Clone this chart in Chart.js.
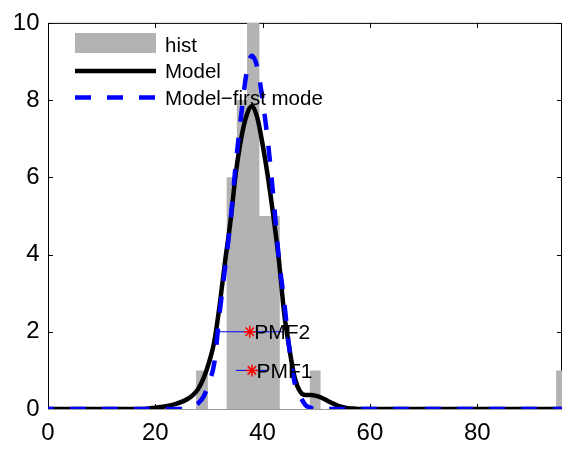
<!DOCTYPE html>
<html>
<head>
<meta charset="utf-8">
<script src="https://cdn.jsdelivr.net/npm/chart.js@4"></script>
<style>
  html, body { margin: 0; padding: 0; background: #fff; }
  #wrap { width: 571px; height: 458px; }
</style>
</head>
<body>
<div id="wrap"><canvas id="c" width="571" height="458"></canvas></div>
<script>
// Axis ticks
const xTicks = [0, 20, 40, 60, 80];
const yTicks = [0, 2, 4, 6, 8, 10];

// Histogram bins: left edge, right edge, count
const histLeft  = [27.6, 33.3, 35.2, 37.1, 39.4, 41.3, 48.8, 94.7];
const histRight = [29.8, 35.2, 37.1, 39.4, 41.3, 43.2, 50.8, 96.8];
const histCount = [1, 6, 8, 10, 5, 5, 1, 1];

// Full model density
const modelX = [0, 18, 19, 20, 21, 22, 23, 24, 25, 26, 27, 28, 29, 30, 31, 32, 33, 34, 35, 36, 37, 38,
                39, 40, 41, 42, 43, 44, 45, 46, 47, 48, 49, 50, 51, 52, 53, 54, 55, 56, 57, 58, 95.8];
const modelY = [0, 0, 0.02, 0.03, 0.05, 0.07, 0.10, 0.14, 0.19, 0.26, 0.36, 0.52, 0.80, 1.20, 1.75, 2.70, 3.82, 4.85, 6.10, 7.00, 7.60, 7.85,
                7.55, 6.85, 6.00, 5.00, 3.90, 2.50, 1.55, 0.80, 0.45, 0.36, 0.36, 0.34, 0.29, 0.22, 0.15, 0.09, 0.05, 0.02, 0.01, 0, 0];

// First mode of the model
const modeX = [0, 25, 26, 27, 28, 29, 30, 31, 32, 33, 34, 35, 36, 37, 38, 39, 40, 41, 42, 43, 44, 45, 46, 47, 48, 49, 50, 95.8];
const modeY = [0, 0, 0.03, 0.07, 0.15, 0.32, 0.68, 1.20, 2.50, 3.65, 4.85, 6.35, 7.60, 8.70, 9.15, 8.85, 8.00, 6.90, 5.50, 3.95, 2.80, 1.55, 0.66, 0.33, 0.10, 0.03, 0, 0];

// PMF estimates with their ranges
const pmfLabels = ['PMF1', 'PMF2'];
const pmfX = [38.0, 37.6];
const pmfY = [1, 2];
const pmfLow = [35.0, 31.7];
const pmfHigh = [41.0, 43.9];

const legendLabels = ['hist', 'Model', 'Model\u2212first mode'];

const FONT = "'Liberation Sans', Arial, Helvetica, sans-serif";
const GRAY = '#b3b3b3';

const histPoints = [];
histLeft.forEach((l, i) => {
  histPoints.push({ x: l, y: 0 }, { x: l, y: histCount[i] },
                  { x: histRight[i], y: histCount[i] }, { x: histRight[i], y: 0 });
});
const toPts = (xs, ys) => xs.map((v, i) => ({ x: v, y: ys[i] }));

const pmfBarSets = pmfLabels.map((name, i) => ({
  label: name + ' range',
  data: [{ x: pmfLow[i], y: pmfY[i] }, { x: pmfHigh[i], y: pmfY[i] }],
  borderColor: '#0000ff', borderWidth: 1, pointRadius: 0, fill: false, order: 4
}));

// Box with inward ticks, drawn underneath the data
const framePlugin = {
  id: 'frame',
  beforeDatasetsDraw(chart) {
    const { ctx, chartArea: a, scales: { x, y } } = chart;
    ctx.save();
    ctx.lineWidth = 1;
    ctx.strokeStyle = '#000';
    ctx.beginPath();
    ctx.moveTo(a.left + 0.5, a.bottom);
    ctx.lineTo(a.left + 0.5, a.top + 0.5);
    ctx.lineTo(a.right - 0.5, a.top + 0.5);
    ctx.lineTo(a.right - 0.5, a.bottom);
    ctx.stroke();
    ctx.beginPath();
    xTicks.forEach(v => {
      const px = Math.round(x.getPixelForValue(v)) + 0.5;
      ctx.moveTo(px, a.top); ctx.lineTo(px, a.top + 5);
      ctx.moveTo(px, a.bottom); ctx.lineTo(px, a.bottom - 5);
    });
    yTicks.forEach(v => {
      const py = Math.round(y.getPixelForValue(v)) + 0.5;
      ctx.moveTo(a.left, py); ctx.lineTo(a.left + 5, py);
      ctx.moveTo(a.right, py); ctx.lineTo(a.right - 5, py);
    });
    ctx.stroke();
    ctx.strokeStyle = '#999';
    ctx.beginPath();
    ctx.moveTo(a.left, a.bottom + 0.5);
    ctx.lineTo(a.right, a.bottom + 0.5);
    ctx.stroke();
    ctx.restore();
  }
};

// PMF text labels and the legend
const annotPlugin = {
  id: 'annot',
  afterDraw(chart) {
    const { ctx, scales: { x, y } } = chart;
    ctx.save();
    ctx.fillStyle = '#000';
    ctx.font = '21px ' + FONT;
    ctx.textAlign = 'left';
    ctx.textBaseline = 'alphabetic';
    pmfLabels.forEach((t, i) => {
      ctx.fillText(t, x.getPixelForValue(pmfX[i]) + 4.5, y.getPixelForValue(pmfY[i]) + 7.6);
    });

    // legend
    const x0 = 75, x1 = 156, tx = 165;
    ctx.fillStyle = GRAY;
    ctx.fillRect(x0, 33, x1 - x0, 20);
    ctx.lineWidth = 4.5;
    ctx.strokeStyle = '#000';
    ctx.beginPath(); ctx.moveTo(x0, 71); ctx.lineTo(x1, 71); ctx.stroke();
    ctx.strokeStyle = '#0000ff';
    ctx.setLineDash([16, 16]);
    ctx.beginPath(); ctx.moveTo(x0, 97.5); ctx.lineTo(x1, 97.5); ctx.stroke();
    ctx.setLineDash([]);
    ctx.fillStyle = '#000';
    ctx.font = '20.5px ' + FONT;
    const baselines = [51.7, 78.3, 104.5];
    legendLabels.forEach((t, i) => ctx.fillText(t, tx, baselines[i]));
    ctx.restore();
  }
};

new Chart(document.getElementById('c'), {
  type: 'line',
  data: {
    datasets: [
      {
        label: legendLabels[0], data: histPoints, fill: 'origin',
        backgroundColor: GRAY, borderColor: 'rgba(0,0,0,0)', borderWidth: 0,
        pointRadius: 0, tension: 0, order: 5
      },
      ...pmfBarSets,
      {
        label: legendLabels[1], data: toPts(modelX, modelY), fill: false,
        borderColor: '#000', borderWidth: 4.5, pointRadius: 0,
        cubicInterpolationMode: 'monotone', order: 3
      },
      {
        label: legendLabels[2], data: toPts(modeX, modeY), fill: false,
        borderColor: '#0000ff', borderWidth: 4.5, borderDash: [16, 16], borderDashOffset: 10,
        pointRadius: 0, cubicInterpolationMode: 'monotone', order: 2
      },
      {
        label: 'PMF', data: toPts(pmfX, pmfY), showLine: false,
        pointStyle: 'star', pointRadius: 6, pointBorderColor: '#ff0000',
        pointBackgroundColor: '#ff0000', pointBorderWidth: 1.5, order: 1
      }
    ]
  },
  options: {
    responsive: false,
    animation: false,
    devicePixelRatio: 1,
    events: [],
    layout: { padding: { top: 16, right: 9, left: 0, bottom: 0 } },
    plugins: { legend: { display: false }, tooltip: { enabled: false } },
    scales: {
      x: {
        type: 'linear', min: 0, max: 95.8,
        grid: { display: false, drawTicks: false },
        border: { display: false },
        ticks: { color: '#000', font: { family: FONT, size: 24 }, padding: 10, maxRotation: 0 },
        afterBuildTicks: s => { s.ticks = xTicks.map(v => ({ value: v })); },
        afterFit: s => { s.height = 49; }
      },
      y: {
        type: 'linear', min: 0, max: 10,
        grid: { display: false, drawTicks: false },
        border: { display: false },
        ticks: { color: '#000', font: { family: FONT, size: 24 }, padding: 8.5 },
        afterBuildTicks: s => { s.ticks = yTicks.map(v => ({ value: v })); },
        afterFit: s => { s.width = 48; }
      }
    }
  },
  plugins: [framePlugin, annotPlugin]
});
</script>
</body>
</html>
